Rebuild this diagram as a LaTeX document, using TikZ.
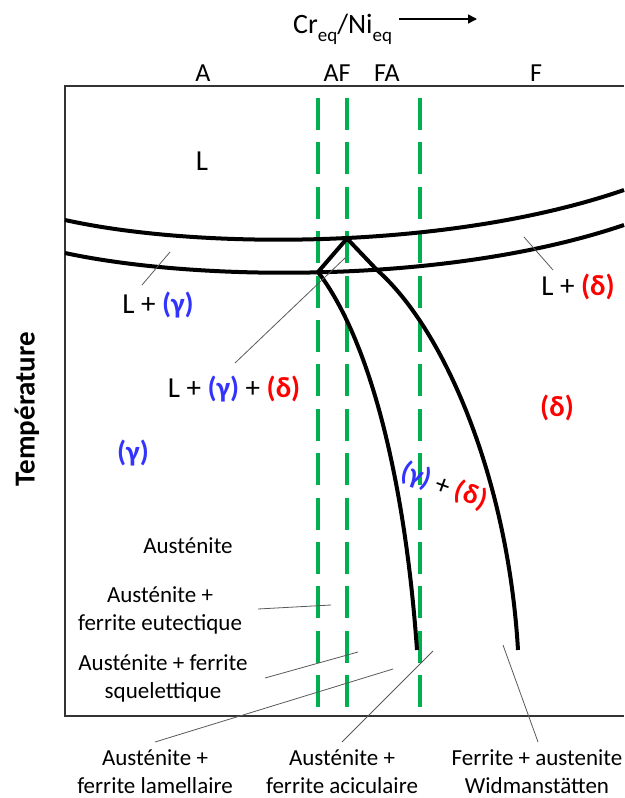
\documentclass[tikz,border=0pt]{standalone}
\usepackage{fontspec}
\setmainfont{Carlito}
\usetikzlibrary{arrows.meta}
\definecolor{gammablue}{RGB}{51,51,255}
\definecolor{deltared}{RGB}{255,0,0}
\definecolor{zonegreen}{RGB}{0,176,80}
\newcommand{\phgam}{\textcolor{gammablue}{\textbf{(γ)}}}
\newcommand{\phdel}{\textcolor{deltared}{\textbf{(δ)}}}
\newcommand{\eqsub}{\raisebox{-0.3em}{\fontsize{19}{20}\selectfont eq}}
\begin{document}
\begin{tikzpicture}[x=1pt, y=-1pt,
    phase/.style={line width=4pt, line join=round},
    zone/.style={zonegreen, line width=3.5pt, dash pattern=on 32pt off 12.4pt},
    leader/.style={line width=0.8pt, black!65},
    frame/.style={line width=1.6pt, black!80},
    head/.style={font=\fontsize{26}{30}\selectfont, anchor=base},
    big/.style={font=\fontsize{29}{34}\selectfont, anchor=base},
    small/.style={font=\fontsize{23}{28}\selectfont, anchor=base, align=center}]
  \useasboundingbox (0,0) rectangle (624,798);
  \coordinate (TL) at (65,86); \coordinate (BL) at (65,716);
  \coordinate (TR) at (624,86); \coordinate (BR) at (624,716);
  \draw[frame] (TR) -- (TL) -- (BL) -- (BR);
  \foreach \gx in {318,347,420}
    \draw[zone] (\gx,98) -- (\gx,716);
  \coordinate (P) at (347,238.5); \coordinate (Q) at (318,272);
  \coordinate (K) at (377,270);
  \coordinate (Lend) at (417,650); \coordinate (Rend) at (518,650);
  \draw[phase] (65,220) .. controls (200,250) and (450,250) .. (624,190);
  \draw[phase] (65,253) .. controls (200,282) and (450,284) .. (624,225);
  \draw[phase] (Q) -- (P) -- (K);
  \draw[phase] (K) .. controls (445,330) and (508,480) .. (Rend);
  \draw[phase] (Q) .. controls (370,340) and (405,480) .. (Lend);
  \node[font=\fontsize{28}{32}\selectfont, anchor=base west, inner sep=0pt] (ratio) at (293,33) {Cr\eqsub/Ni\eqsub};
  \coordinate (ratio0) at (399,19); \coordinate (ratio1) at (477,19);
  \draw[line width=1.6pt, -{Triangle[length=9pt, width=9pt]}] (ratio0) -- (ratio1);
  \node[head] (zA) at (203,81) {A};
  \node[head] (zAF) at (337,81) {AF};
  \node[head] (zFA) at (387,81) {FA};
  \node[head] (zF) at (536,81) {F};
  \node[font=\fontsize{29}{34}\selectfont\bfseries, rotate=90] (temp) at (27,409) {Température};
  \node[big] (liq) at (202,170) {L};
  \node[big] (lgam) at (158,313) {L + \phgam};
  \node[big] (lgamdel) at (234,397) {L + \phgam{} + \phdel};
  \node[big] (ldel) at (578,295) {L + \phdel};
  \node[big] (gam) at (133,461) {\phgam};
  \node[big] (del) at (557,416) {\phdel};
  \node[font=\fontsize{28}{32}\selectfont, rotate=-20] (gamdel) at (444,486) {\phgam{} + \phdel};
  \node[small] (aus) at (188,553) {Austénite};
  \node[small] (eut) at (160,630) {Austénite +\\ferrite eutectique};
  \node[small] (squ) at (163,698) {Austénite + ferrite\\squelettique};
  \node[small] (lam) at (155,793) {Austénite +\\ferrite lamellaire};
  \node[small] (aci) at (342,793) {Austénite +\\ferrite aciculaire};
  \node[small] (wid) at (537,793) {Ferrite + austenite\\Widmanstätten};
  \coordinate (a1) at (142,285); \coordinate (b1) at (170,252);
  \coordinate (a2) at (235,363); \coordinate (b2) at (345,258);
  \coordinate (a3) at (553,270); \coordinate (b3) at (524,237);
  \coordinate (a4) at (258,609); \coordinate (b4) at (331,605);
  \coordinate (a5) at (265,678); \coordinate (b5) at (358,652);
  \coordinate (a6) at (155,742); \coordinate (b6) at (393,669);
  \coordinate (a7) at (342,742); \coordinate (b7) at (433,651);
  \coordinate (a8) at (538,742); \coordinate (b8) at (503,645);
  \foreach \i in {1,...,8}
    \draw[leader] (a\i) -- (b\i);
\end{tikzpicture}
\end{document}
